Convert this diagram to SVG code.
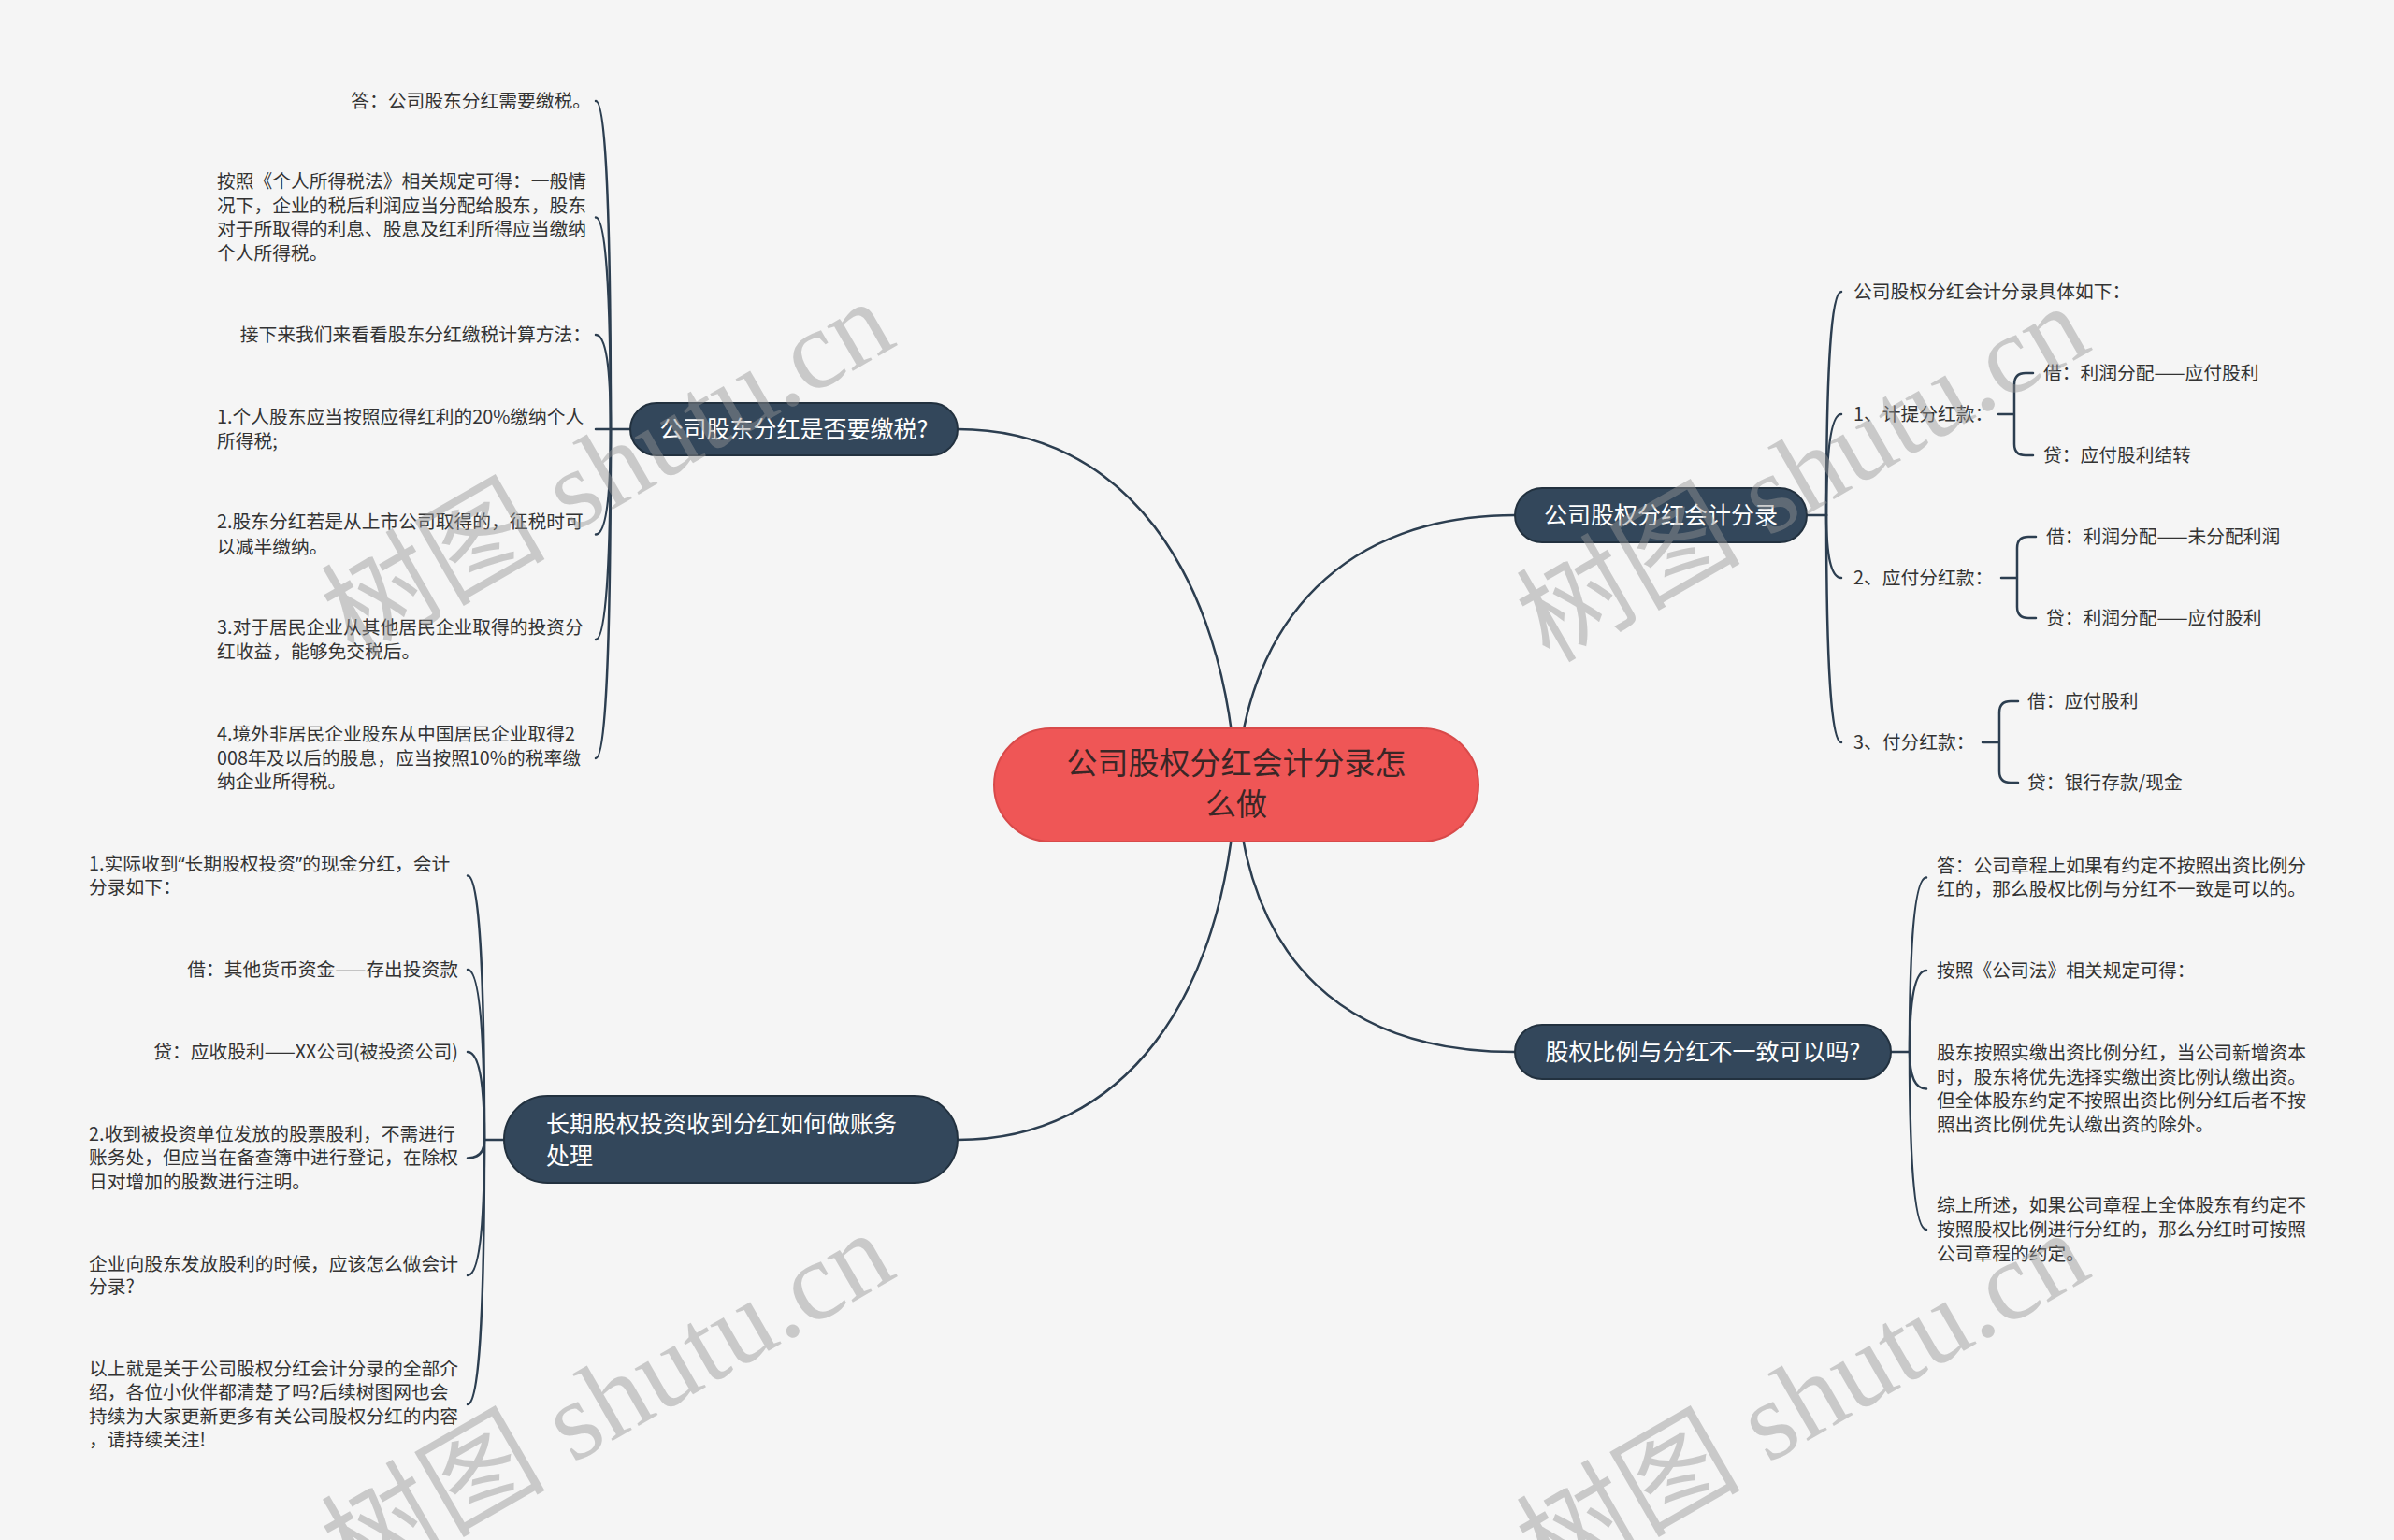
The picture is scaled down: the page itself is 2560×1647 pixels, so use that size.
<svg xmlns="http://www.w3.org/2000/svg" width="2560" height="1647" viewBox="0 0 2560 1647">
<style>
.bg{fill:#F5F5F5}
.edge{fill:none;stroke:#2C3E50;stroke-width:2.5;stroke-linecap:round}
.main{fill:#33475B;stroke:#22313F;stroke-width:2}
.root{fill:#EF5656;stroke:#D84A4A;stroke-width:2}
text{font-family:"Noto Sans CJK SC","Noto Sans",sans-serif}
.mt{font-size:25px;fill:#FFFFFF}
.rt{font-size:33px;fill:#3A2626}
.leaf{font-size:19.75px;fill:#333333}
.end{text-anchor:end}
.mid{text-anchor:middle}
.q{font-family:"Noto Sans","Liberation Sans",sans-serif}
.wm{font-family:"Liberation Serif","Noto Sans CJK SC",serif;font-size:120px;fill:#969696;opacity:0.45;text-anchor:middle}
</style>
<rect class="bg" x="0" y="0" width="2560" height="1647"/>

<g id="connectors">
  <path class="edge" d="M1024 459 C1200 459 1310 610 1322 839"/>
  <path class="edge" d="M1620 551 C1440 551 1334 660 1322 839"/>
  <path class="edge" d="M1024 1219 C1200 1219 1310 1070 1322 839"/>
  <path class="edge" d="M1620 1125 C1440 1125 1334 1030 1322 839"/>
  <path class="edge" d="M674 459 H653"/>
  <path class="edge" d="M653 459 Q653 108 637 108"/>
  <path class="edge" d="M653 459 Q653 232.5 637 232.5"/>
  <path class="edge" d="M653 459 Q653 358 637 358"/>
  <path class="edge" d="M653 459 H637"/>
  <path class="edge" d="M653 459 Q653 571.5 637 571.5"/>
  <path class="edge" d="M653 459 Q653 684 637 684"/>
  <path class="edge" d="M653 459 Q653 811 637 811"/>
  <path class="edge" d="M539 1219 H518"/>
  <path class="edge" d="M518 1219 Q518 936.5 500 936.5"/>
  <path class="edge" d="M518 1219 Q518 1037 500 1037"/>
  <path class="edge" d="M518 1219 Q518 1125 500 1125"/>
  <path class="edge" d="M518 1219 Q518 1238.5 500 1238.5"/>
  <path class="edge" d="M518 1219 Q518 1364 500 1364"/>
  <path class="edge" d="M518 1219 Q518 1502 500 1502"/>
  <path class="edge" d="M1932 551 H1953"/>
  <path class="edge" d="M1953 551 Q1953 312 1969 312"/>
  <path class="edge" d="M1953 551 Q1953 443 1969 443"/>
  <path class="edge" d="M1953 551 Q1953 618 1969 618"/>
  <path class="edge" d="M1953 551 Q1953 794 1969 794"/>
  <path class="edge" d="M2137 443 H2154 M2154 443 V411 Q2154 399 2166 399 H2174 M2154 443 V475 Q2154 487 2166 487 H2174"/>
  <path class="edge" d="M2140 618 H2157 M2157 618 V586 Q2157 574 2169 574 H2177 M2157 618 V649 Q2157 661 2169 661 H2177"/>
  <path class="edge" d="M2120 794 H2138 M2138 794 V762 Q2138 750 2150 750 H2158 M2138 794 V825 Q2138 837 2150 837 H2158"/>
  <path class="edge" d="M2022 1125 H2042"/>
  <path class="edge" d="M2042 1125 Q2042 938.5 2060 938.5"/>
  <path class="edge" d="M2042 1125 Q2042 1038 2060 1038"/>
  <path class="edge" d="M2042 1125 Q2042 1164.5 2060 1164.5"/>
  <path class="edge" d="M2042 1125 Q2042 1315 2060 1315"/>
</g>

<g id="root">
  <rect class="root" x="1063" y="779" width="518" height="121" rx="60.5"/>
  <text class="rt mid" x="1322" y="828">公司股权分红会计分录怎</text>
  <text class="rt mid" x="1322" y="872">么做</text>
</g>

<g id="node-tax">
  <rect class="main" x="674" y="431" width="350" height="56" rx="28"/>
  <text class="mt mid" x="849" y="468">公司股东分红是否要缴税?</text>
</g>
<g id="node-entries">
  <rect class="main" x="1620" y="522" width="312" height="58" rx="29"/>
  <text class="mt mid" x="1776" y="560">公司股权分红会计分录</text>
</g>
<g id="node-ratio">
  <rect class="main" x="1620" y="1096" width="402" height="58" rx="29"/>
  <text class="mt mid" x="1821" y="1134">股权比例与分红不一致可以吗?</text>
</g>
<g id="node-longterm">
  <rect class="main" x="539" y="1172" width="485" height="93" rx="46.5"/>
  <text class="mt" x="584" y="1211">长期股权投资收到分红如何做账务</text>
  <text class="mt" x="584" y="1245">处理</text>
</g>

<g id="tax-children">
  <g id="t1"><text class="leaf end" x="632" y="115">答：公司股东分红需要缴税。</text></g>
  <g id="t2">
    <text class="leaf" x="232" y="201">按照《个人所得税法》相关规定可得：一般情</text>
    <text class="leaf" x="232" y="227">况下，企业的税后利润应当分配给股东，股东</text>
    <text class="leaf" x="232" y="252">对于所取得的利息、股息及红利所得应当缴纳</text>
    <text class="leaf" x="232" y="278">个人所得税。</text>
  </g>
  <g id="t3"><text class="leaf end" x="632" y="365">接下来我们来看看股东分红缴税计算方法：</text></g>
  <g id="t4">
    <text class="leaf" x="232" y="453">1.个人股东应当按照应得红利的20%缴纳个人</text>
    <text class="leaf" x="232" y="479">所得税;</text>
  </g>
  <g id="t5">
    <text class="leaf" x="232" y="565">2.股东分红若是从上市公司取得的，征税时可</text>
    <text class="leaf" x="232" y="592">以减半缴纳。</text>
  </g>
  <g id="t6">
    <text class="leaf" x="232" y="678">3.对于居民企业从其他居民企业取得的投资分</text>
    <text class="leaf" x="232" y="704">红收益，能够免交税后。</text>
  </g>
  <g id="t7">
    <text class="leaf" x="232" y="792">4.境外非居民企业股东从中国居民企业取得2</text>
    <text class="leaf" x="232" y="818">008年及以后的股息，应当按照10%的税率缴</text>
    <text class="leaf" x="232" y="843">纳企业所得税。</text>
  </g>
</g>

<g id="longterm-children">
  <g id="l1">
    <text class="leaf" x="95" y="931">1.实际收到<tspan class="q">“</tspan>长期股权投资<tspan class="q">”</tspan>的现金分红，会计</text>
    <text class="leaf" x="95" y="956">分录如下：</text>
  </g>
  <g id="l2"><text class="leaf end" x="490" y="1044">借：其他货币资金——存出投资款</text></g>
  <g id="l3"><text class="leaf end" x="490" y="1132">贷：应收股利——XX公司(被投资公司)</text></g>
  <g id="l4">
    <text class="leaf" x="95" y="1220">2.收到被投资单位发放的股票股利，不需进行</text>
    <text class="leaf" x="95" y="1245">账务处，但应当在备查簿中进行登记，在除权</text>
    <text class="leaf" x="95" y="1271">日对增加的股数进行注明。</text>
  </g>
  <g id="l5">
    <text class="leaf" x="95" y="1359">企业向股东发放股利的时候，应该怎么做会计</text>
    <text class="leaf" x="95" y="1383">分录?</text>
  </g>
  <g id="l6">
    <text class="leaf" x="95" y="1471">以上就是关于公司股权分红会计分录的全部介</text>
    <text class="leaf" x="95" y="1496">绍，各位小伙伴都清楚了吗?后续树图网也会</text>
    <text class="leaf" x="95" y="1522">持续为大家更新更多有关公司股权分红的内容</text>
    <text class="leaf" x="95" y="1547">，请持续关注!</text>
  </g>
</g>

<g id="entries-children">
  <g id="e0"><text class="leaf" x="1982" y="319">公司股权分红会计分录具体如下：</text></g>
  <g id="e1"><text class="leaf" x="1982" y="450">1、计提分红款：</text></g>
  <g id="e1a"><text class="leaf" x="2185" y="406">借：利润分配——应付股利</text></g>
  <g id="e1b"><text class="leaf" x="2185" y="494">贷：应付股利结转</text></g>
  <g id="e2"><text class="leaf" x="1982" y="625">2、应付分红款：</text></g>
  <g id="e2a"><text class="leaf" x="2188" y="581">借：利润分配——未分配利润</text></g>
  <g id="e2b"><text class="leaf" x="2188" y="668">贷：利润分配——应付股利</text></g>
  <g id="e3"><text class="leaf" x="1982" y="801">3、付分红款：</text></g>
  <g id="e3a"><text class="leaf" x="2168" y="757">借：应付股利</text></g>
  <g id="e3b"><text class="leaf" x="2168" y="844">贷：银行存款/现金</text></g>
</g>

<g id="ratio-children">
  <g id="r1">
    <text class="leaf" x="2071" y="933">答：公司章程上如果有约定不按照出资比例分</text>
    <text class="leaf" x="2071" y="958">红的，那么股权比例与分红不一致是可以的。</text>
  </g>
  <g id="r2"><text class="leaf" x="2071" y="1045">按照《公司法》相关规定可得：</text></g>
  <g id="r3">
    <text class="leaf" x="2071" y="1133">股东按照实缴出资比例分红，当公司新增资本</text>
    <text class="leaf" x="2071" y="1159">时，股东将优先选择实缴出资比例认缴出资。</text>
    <text class="leaf" x="2071" y="1184">但全体股东约定不按照出资比例分红后者不按</text>
    <text class="leaf" x="2071" y="1210">照出资比例优先认缴出资的除外。</text>
  </g>
  <g id="r4">
    <text class="leaf" x="2071" y="1296">综上所述，如果公司章程上全体股东有约定不</text>
    <text class="leaf" x="2071" y="1322">按照股权比例进行分红的，那么分红时可按照</text>
    <text class="leaf" x="2071" y="1348">公司章程的约定。</text>
  </g>
</g>

<g id="watermarks">
  <text class="wm" transform="translate(649 500) rotate(-30)" y="42">树图 shutu.cn</text>
  <text class="wm" transform="translate(1927 505) rotate(-30)" y="42">树图 shutu.cn</text>
  <text class="wm" transform="translate(649 1496) rotate(-30)" y="42">树图 shutu.cn</text>
  <text class="wm" transform="translate(1927 1496) rotate(-30)" y="42">树图 shutu.cn</text>
</g>
</svg>
